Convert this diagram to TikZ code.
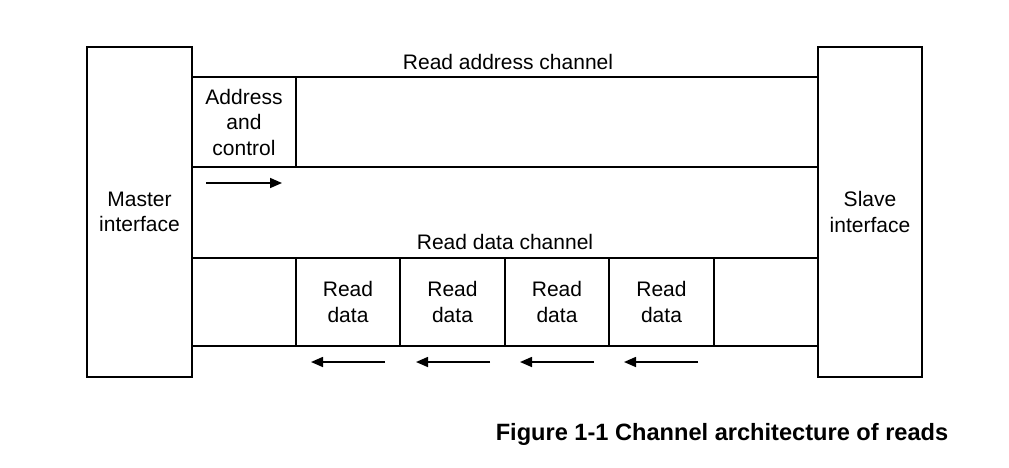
\documentclass[tikz,border=0pt]{standalone}
\usepackage{fontspec}
\setmainfont{Liberation Sans}
\usetikzlibrary{arrows.meta}
\begin{document}
\begin{tikzpicture}[x=1pt,y=-1pt,line width=1.6pt,
    font=\fontsize{21}{25.5}\selectfont,
    box/.style={draw,rectangle,inner sep=0pt,align=center,minimum height=#1},
    flow/.style={-{Triangle[length=12pt,width=10pt]}}]
                \useasboundingbox (0,0) rectangle (1009,467);
                %NODE
                \node[box=330pt,minimum width=105pt] (M) at (139.5,212){Master\\interface};
                \node[box=330pt,minimum width=104pt] (S) at (870,212){Slave\\interface};
                \node[box=90pt,minimum width=626pt] (AC) at (505,122){};
                \node[box=90pt,minimum width=104pt] (A) at (244,122){Address\\and\\control};
                \node[box=88pt,minimum width=626pt] (DC) at (505,302){};
                \foreach \i/\x in {1/348,2/452.5,3/557,4/661.5}
                    \node[box=88pt,minimum width=104.5pt] (D\i) at (\x,302){Read\\data};
                \node (AL) at (508,62){Read address channel};
                \node (DL) at (505,242){Read data channel};
                \node[anchor=west,inner sep=0pt,font=\fontsize{23.6}{28}\selectfont\bfseries] (CAP) at (495,434){Figure 1-1 Channel architecture of reads};
                
                %EDGE
                \coordinate (a1) at (206,183);
                \coordinate (a2) at (282,183);
                \draw[flow] (a1) -- (a2);
                \foreach \x in {385,490,594,698}{
                    \coordinate (s\x) at (\x,362);
                    \coordinate (e\x) at (\x-74,362);
                    \draw[flow] (s\x) -- (e\x);
                }
            \end{tikzpicture}
\end{document}
